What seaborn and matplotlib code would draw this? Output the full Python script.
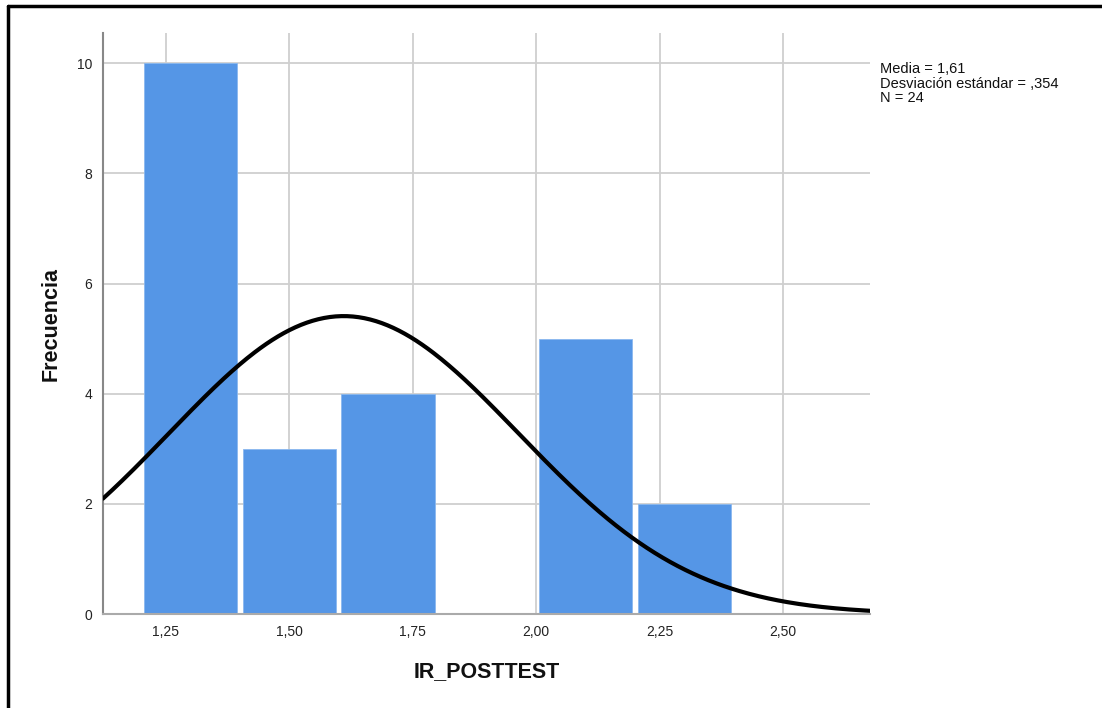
import numpy as np
import pandas as pd
import matplotlib
matplotlib.use("Agg")
import matplotlib.pyplot as plt
from matplotlib.lines import Line2D
import seaborn as sns

# Data
bin_edges = [1.20, 1.40, 1.60, 1.80, 2.00, 2.20, 2.40]
bin_centers = [1.30, 1.50, 1.70, 1.90, 2.10, 2.30]
counts = [10, 3, 4, 0, 5, 2]
x_ticks = [1.25, 1.50, 1.75, 2.00, 2.25, 2.50]
x_tick_labels = ["1,25", "1,50", "1,75", "2,00", "2,25", "2,50"]
y_ticks = [0, 2, 4, 6, 8, 10]
mean_val = 1.61
sd_val = 0.354
n_val = 24
bin_width = 0.2

sns.set_theme(style="white")
plt.rcParams['font.family'] = ['Liberation Sans', 'DejaVu Sans']

fig = plt.figure(figsize=(11.02, 7.08), dpi=100)
ax = fig.add_axes([103/1102, 94/708, (870-103)/1102, (614-33)/708])

df = pd.DataFrame({"x": bin_centers, "w": counts})
sns.histplot(data=df, x="x", weights="w", bins=bin_edges, ax=ax, shrink=0.945,
             color="#5596e6", alpha=1.0, edgecolor="#8ab8ef", linewidth=0.6,
             zorder=2)

xmin, xmax = 1.1225, 2.676
xs = np.linspace(xmin, xmax, 400)
ys = n_val * bin_width / (sd_val * np.sqrt(2 * np.pi)) * np.exp(-0.5 * ((xs - mean_val) / sd_val) ** 2)
sns.lineplot(x=xs, y=ys, ax=ax, color="black", linewidth=3, zorder=3)

ax.set_xlim(xmin, xmax)
ax.set_ylim(0, 10.55)
ax.set_xticks(x_ticks)
ax.set_xticklabels(x_tick_labels)
ax.set_yticks(y_ticks)
ax.tick_params(axis='both', labelsize=10, length=0, colors="#222222")
ax.tick_params(axis='x', pad=8)
ax.tick_params(axis='y', pad=8)

ax.grid(True, color="#cfcfcf", linewidth=1.3, zorder=0)
ax.set_axisbelow(True)
for s in ["top", "right"]:
    ax.spines[s].set_visible(False)
ax.spines["left"].set_color("#888888")
ax.spines["bottom"].set_color("#aaaaaa")
ax.spines["left"].set_linewidth(1.5)
ax.spines["bottom"].set_linewidth(1.5)

ax.set_xlabel("IR_POSTTEST", fontsize=15.5, fontweight="bold", labelpad=16, color="#111111")
ax.set_ylabel("Frecuencia", fontsize=15.5, fontweight="bold", labelpad=11, color="#111111")

fig.text(880/1102, 1 - 62/708,
         "Media = 1,61\nDesviación estándar = ,354\nN = 24",
         fontsize=10.5, va="top", ha="left", linespacing=1.05, color="#111111")

# outer frame (top and left visible)
fig.add_artist(Line2D([8/1102, 1.0], [1 - 6/708, 1 - 6/708], color="black", linewidth=2.5, transform=fig.transFigure))
fig.add_artist(Line2D([8/1102, 8/1102], [0.0, 1 - 6/708], color="black", linewidth=2.5, transform=fig.transFigure))

fig.savefig("out.png", dpi=100, facecolor="white")
